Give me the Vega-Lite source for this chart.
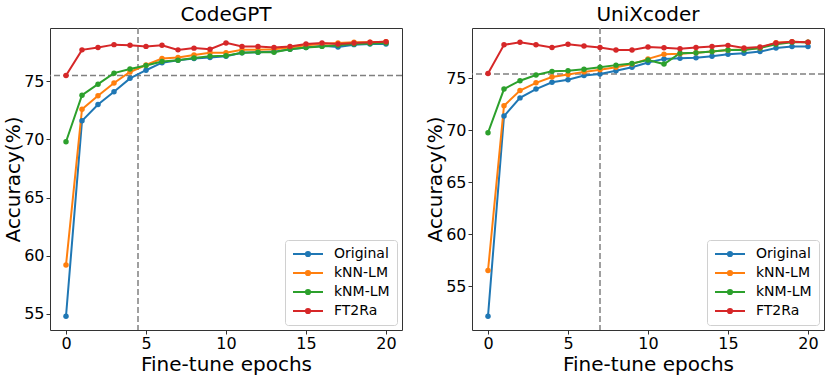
{
  "$schema": "https://vega.github.io/schema/vega-lite/v6.json",
  "padding": {"left": 3, "right": 8, "top": 4, "bottom": 0},
  "config": {
    "font": "DejaVu Sans",
    "view": {"stroke": "#333", "strokeWidth": 1},
    "axis": {"grid": false, "domain": false, "labelFontSize": 16, "titleFontSize": 20, "labelColor": "#000", "titleColor": "#000", "titleFontWeight": "normal", "tickColor": "#333", "tickSize": 4, "labelPadding": 2},
    "axisX": {"titlePadding": 3, "labelPadding": 1},
    "axisY": {"titlePadding": 0},
    "title": {"fontSize": 20, "fontWeight": "normal", "offset": 2, "color": "#000"},
    "legend": {"orient": "bottom-right", "offset": 5, "padding": 7, "strokeColor": "#d0d0d0", "fillColor": "#ffffff", "cornerRadius": 3, "labelFontSize": 14, "labelColor": "#000", "rowPadding": 5, "symbolStrokeWidth": 2, "labelOffset": 28}
  },
  "datasets": {
    "acc": [
      {"model": "CodeGPT", "method": "Original", "epoch": 0, "acc": 54.8},
      {"model": "CodeGPT", "method": "Original", "epoch": 1, "acc": 71.6},
      {"model": "CodeGPT", "method": "Original", "epoch": 2, "acc": 73.0},
      {"model": "CodeGPT", "method": "Original", "epoch": 3, "acc": 74.1},
      {"model": "CodeGPT", "method": "Original", "epoch": 4, "acc": 75.25},
      {"model": "CodeGPT", "method": "Original", "epoch": 5, "acc": 75.95},
      {"model": "CodeGPT", "method": "Original", "epoch": 6, "acc": 76.6},
      {"model": "CodeGPT", "method": "Original", "epoch": 7, "acc": 76.8},
      {"model": "CodeGPT", "method": "Original", "epoch": 8, "acc": 76.95},
      {"model": "CodeGPT", "method": "Original", "epoch": 9, "acc": 77.05},
      {"model": "CodeGPT", "method": "Original", "epoch": 10, "acc": 77.15},
      {"model": "CodeGPT", "method": "Original", "epoch": 11, "acc": 77.45},
      {"model": "CodeGPT", "method": "Original", "epoch": 12, "acc": 77.5},
      {"model": "CodeGPT", "method": "Original", "epoch": 13, "acc": 77.55},
      {"model": "CodeGPT", "method": "Original", "epoch": 14, "acc": 77.75},
      {"model": "CodeGPT", "method": "Original", "epoch": 15, "acc": 77.9},
      {"model": "CodeGPT", "method": "Original", "epoch": 16, "acc": 78.05},
      {"model": "CodeGPT", "method": "Original", "epoch": 17, "acc": 77.95},
      {"model": "CodeGPT", "method": "Original", "epoch": 18, "acc": 78.15},
      {"model": "CodeGPT", "method": "Original", "epoch": 19, "acc": 78.2},
      {"model": "CodeGPT", "method": "Original", "epoch": 20, "acc": 78.2},
      {"model": "CodeGPT", "method": "kNN-LM", "epoch": 0, "acc": 59.2},
      {"model": "CodeGPT", "method": "kNN-LM", "epoch": 1, "acc": 72.6},
      {"model": "CodeGPT", "method": "kNN-LM", "epoch": 2, "acc": 73.75},
      {"model": "CodeGPT", "method": "kNN-LM", "epoch": 3, "acc": 74.85},
      {"model": "CodeGPT", "method": "kNN-LM", "epoch": 4, "acc": 75.8},
      {"model": "CodeGPT", "method": "kNN-LM", "epoch": 5, "acc": 76.4},
      {"model": "CodeGPT", "method": "kNN-LM", "epoch": 6, "acc": 76.95},
      {"model": "CodeGPT", "method": "kNN-LM", "epoch": 7, "acc": 77.05},
      {"model": "CodeGPT", "method": "kNN-LM", "epoch": 8, "acc": 77.25},
      {"model": "CodeGPT", "method": "kNN-LM", "epoch": 9, "acc": 77.45},
      {"model": "CodeGPT", "method": "kNN-LM", "epoch": 10, "acc": 77.45},
      {"model": "CodeGPT", "method": "kNN-LM", "epoch": 11, "acc": 77.7},
      {"model": "CodeGPT", "method": "kNN-LM", "epoch": 12, "acc": 77.7},
      {"model": "CodeGPT", "method": "kNN-LM", "epoch": 13, "acc": 77.75},
      {"model": "CodeGPT", "method": "kNN-LM", "epoch": 14, "acc": 77.9},
      {"model": "CodeGPT", "method": "kNN-LM", "epoch": 15, "acc": 78.1},
      {"model": "CodeGPT", "method": "kNN-LM", "epoch": 16, "acc": 78.2},
      {"model": "CodeGPT", "method": "kNN-LM", "epoch": 17, "acc": 78.3},
      {"model": "CodeGPT", "method": "kNN-LM", "epoch": 18, "acc": 78.35},
      {"model": "CodeGPT", "method": "kNN-LM", "epoch": 19, "acc": 78.35},
      {"model": "CodeGPT", "method": "kNN-LM", "epoch": 20, "acc": 78.4},
      {"model": "CodeGPT", "method": "kNM-LM", "epoch": 0, "acc": 69.8},
      {"model": "CodeGPT", "method": "kNM-LM", "epoch": 1, "acc": 73.8},
      {"model": "CodeGPT", "method": "kNM-LM", "epoch": 2, "acc": 74.75},
      {"model": "CodeGPT", "method": "kNM-LM", "epoch": 3, "acc": 75.7},
      {"model": "CodeGPT", "method": "kNM-LM", "epoch": 4, "acc": 76.05},
      {"model": "CodeGPT", "method": "kNM-LM", "epoch": 5, "acc": 76.35},
      {"model": "CodeGPT", "method": "kNM-LM", "epoch": 6, "acc": 76.7},
      {"model": "CodeGPT", "method": "kNM-LM", "epoch": 7, "acc": 76.8},
      {"model": "CodeGPT", "method": "kNM-LM", "epoch": 8, "acc": 77.0},
      {"model": "CodeGPT", "method": "kNM-LM", "epoch": 9, "acc": 77.15},
      {"model": "CodeGPT", "method": "kNM-LM", "epoch": 10, "acc": 77.2},
      {"model": "CodeGPT", "method": "kNM-LM", "epoch": 11, "acc": 77.45},
      {"model": "CodeGPT", "method": "kNM-LM", "epoch": 12, "acc": 77.5},
      {"model": "CodeGPT", "method": "kNM-LM", "epoch": 13, "acc": 77.5},
      {"model": "CodeGPT", "method": "kNM-LM", "epoch": 14, "acc": 77.75},
      {"model": "CodeGPT", "method": "kNM-LM", "epoch": 15, "acc": 77.9},
      {"model": "CodeGPT", "method": "kNM-LM", "epoch": 16, "acc": 78.0},
      {"model": "CodeGPT", "method": "kNM-LM", "epoch": 17, "acc": 78.1},
      {"model": "CodeGPT", "method": "kNM-LM", "epoch": 18, "acc": 78.2},
      {"model": "CodeGPT", "method": "kNM-LM", "epoch": 19, "acc": 78.25},
      {"model": "CodeGPT", "method": "kNM-LM", "epoch": 20, "acc": 78.3},
      {"model": "CodeGPT", "method": "FT2Ra", "epoch": 0, "acc": 75.5},
      {"model": "CodeGPT", "method": "FT2Ra", "epoch": 1, "acc": 77.7},
      {"model": "CodeGPT", "method": "FT2Ra", "epoch": 2, "acc": 77.9},
      {"model": "CodeGPT", "method": "FT2Ra", "epoch": 3, "acc": 78.15},
      {"model": "CodeGPT", "method": "FT2Ra", "epoch": 4, "acc": 78.1},
      {"model": "CodeGPT", "method": "FT2Ra", "epoch": 5, "acc": 78.0},
      {"model": "CodeGPT", "method": "FT2Ra", "epoch": 6, "acc": 78.1},
      {"model": "CodeGPT", "method": "FT2Ra", "epoch": 7, "acc": 77.7},
      {"model": "CodeGPT", "method": "FT2Ra", "epoch": 8, "acc": 77.85},
      {"model": "CodeGPT", "method": "FT2Ra", "epoch": 9, "acc": 77.75},
      {"model": "CodeGPT", "method": "FT2Ra", "epoch": 10, "acc": 78.3},
      {"model": "CodeGPT", "method": "FT2Ra", "epoch": 11, "acc": 78.0},
      {"model": "CodeGPT", "method": "FT2Ra", "epoch": 12, "acc": 78.0},
      {"model": "CodeGPT", "method": "FT2Ra", "epoch": 13, "acc": 77.9},
      {"model": "CodeGPT", "method": "FT2Ra", "epoch": 14, "acc": 78.0},
      {"model": "CodeGPT", "method": "FT2Ra", "epoch": 15, "acc": 78.2},
      {"model": "CodeGPT", "method": "FT2Ra", "epoch": 16, "acc": 78.3},
      {"model": "CodeGPT", "method": "FT2Ra", "epoch": 17, "acc": 78.2},
      {"model": "CodeGPT", "method": "FT2Ra", "epoch": 18, "acc": 78.3},
      {"model": "CodeGPT", "method": "FT2Ra", "epoch": 19, "acc": 78.35},
      {"model": "CodeGPT", "method": "FT2Ra", "epoch": 20, "acc": 78.4},
      {"model": "UniXcoder", "method": "Original", "epoch": 0, "acc": 52.1},
      {"model": "UniXcoder", "method": "Original", "epoch": 1, "acc": 71.35},
      {"model": "UniXcoder", "method": "Original", "epoch": 2, "acc": 73.1},
      {"model": "UniXcoder", "method": "Original", "epoch": 3, "acc": 73.95},
      {"model": "UniXcoder", "method": "Original", "epoch": 4, "acc": 74.6},
      {"model": "UniXcoder", "method": "Original", "epoch": 5, "acc": 74.85},
      {"model": "UniXcoder", "method": "Original", "epoch": 6, "acc": 75.25},
      {"model": "UniXcoder", "method": "Original", "epoch": 7, "acc": 75.4},
      {"model": "UniXcoder", "method": "Original", "epoch": 8, "acc": 75.7},
      {"model": "UniXcoder", "method": "Original", "epoch": 9, "acc": 76.05},
      {"model": "UniXcoder", "method": "Original", "epoch": 10, "acc": 76.5},
      {"model": "UniXcoder", "method": "Original", "epoch": 11, "acc": 76.85},
      {"model": "UniXcoder", "method": "Original", "epoch": 12, "acc": 76.9},
      {"model": "UniXcoder", "method": "Original", "epoch": 13, "acc": 76.95},
      {"model": "UniXcoder", "method": "Original", "epoch": 14, "acc": 77.1},
      {"model": "UniXcoder", "method": "Original", "epoch": 15, "acc": 77.3},
      {"model": "UniXcoder", "method": "Original", "epoch": 16, "acc": 77.4},
      {"model": "UniXcoder", "method": "Original", "epoch": 17, "acc": 77.55},
      {"model": "UniXcoder", "method": "Original", "epoch": 18, "acc": 77.9},
      {"model": "UniXcoder", "method": "Original", "epoch": 19, "acc": 78.05},
      {"model": "UniXcoder", "method": "Original", "epoch": 20, "acc": 78.05},
      {"model": "UniXcoder", "method": "kNN-LM", "epoch": 0, "acc": 56.5},
      {"model": "UniXcoder", "method": "kNN-LM", "epoch": 1, "acc": 72.35},
      {"model": "UniXcoder", "method": "kNN-LM", "epoch": 2, "acc": 73.8},
      {"model": "UniXcoder", "method": "kNN-LM", "epoch": 3, "acc": 74.55},
      {"model": "UniXcoder", "method": "kNN-LM", "epoch": 4, "acc": 75.1},
      {"model": "UniXcoder", "method": "kNN-LM", "epoch": 5, "acc": 75.35},
      {"model": "UniXcoder", "method": "kNN-LM", "epoch": 6, "acc": 75.6},
      {"model": "UniXcoder", "method": "kNN-LM", "epoch": 7, "acc": 75.8},
      {"model": "UniXcoder", "method": "kNN-LM", "epoch": 8, "acc": 76.05},
      {"model": "UniXcoder", "method": "kNN-LM", "epoch": 9, "acc": 76.35},
      {"model": "UniXcoder", "method": "kNN-LM", "epoch": 10, "acc": 76.85},
      {"model": "UniXcoder", "method": "kNN-LM", "epoch": 11, "acc": 77.3},
      {"model": "UniXcoder", "method": "kNN-LM", "epoch": 12, "acc": 77.35},
      {"model": "UniXcoder", "method": "kNN-LM", "epoch": 13, "acc": 77.45},
      {"model": "UniXcoder", "method": "kNN-LM", "epoch": 14, "acc": 77.55},
      {"model": "UniXcoder", "method": "kNN-LM", "epoch": 15, "acc": 77.7},
      {"model": "UniXcoder", "method": "kNN-LM", "epoch": 16, "acc": 77.75},
      {"model": "UniXcoder", "method": "kNN-LM", "epoch": 17, "acc": 77.9},
      {"model": "UniXcoder", "method": "kNN-LM", "epoch": 18, "acc": 78.4},
      {"model": "UniXcoder", "method": "kNN-LM", "epoch": 19, "acc": 78.5},
      {"model": "UniXcoder", "method": "kNN-LM", "epoch": 20, "acc": 78.45},
      {"model": "UniXcoder", "method": "kNM-LM", "epoch": 0, "acc": 69.75},
      {"model": "UniXcoder", "method": "kNM-LM", "epoch": 1, "acc": 73.95},
      {"model": "UniXcoder", "method": "kNM-LM", "epoch": 2, "acc": 74.75},
      {"model": "UniXcoder", "method": "kNM-LM", "epoch": 3, "acc": 75.3},
      {"model": "UniXcoder", "method": "kNM-LM", "epoch": 4, "acc": 75.65},
      {"model": "UniXcoder", "method": "kNM-LM", "epoch": 5, "acc": 75.7},
      {"model": "UniXcoder", "method": "kNM-LM", "epoch": 6, "acc": 75.85},
      {"model": "UniXcoder", "method": "kNM-LM", "epoch": 7, "acc": 76.05},
      {"model": "UniXcoder", "method": "kNM-LM", "epoch": 8, "acc": 76.25},
      {"model": "UniXcoder", "method": "kNM-LM", "epoch": 9, "acc": 76.4},
      {"model": "UniXcoder", "method": "kNM-LM", "epoch": 10, "acc": 76.75},
      {"model": "UniXcoder", "method": "kNM-LM", "epoch": 11, "acc": 76.35},
      {"model": "UniXcoder", "method": "kNM-LM", "epoch": 12, "acc": 77.4},
      {"model": "UniXcoder", "method": "kNM-LM", "epoch": 13, "acc": 77.45},
      {"model": "UniXcoder", "method": "kNM-LM", "epoch": 14, "acc": 77.55},
      {"model": "UniXcoder", "method": "kNM-LM", "epoch": 15, "acc": 77.7},
      {"model": "UniXcoder", "method": "kNM-LM", "epoch": 16, "acc": 77.7},
      {"model": "UniXcoder", "method": "kNM-LM", "epoch": 17, "acc": 77.9},
      {"model": "UniXcoder", "method": "kNM-LM", "epoch": 18, "acc": 78.25},
      {"model": "UniXcoder", "method": "kNM-LM", "epoch": 19, "acc": 78.45},
      {"model": "UniXcoder", "method": "kNM-LM", "epoch": 20, "acc": 78.45},
      {"model": "UniXcoder", "method": "FT2Ra", "epoch": 0, "acc": 75.45},
      {"model": "UniXcoder", "method": "FT2Ra", "epoch": 1, "acc": 78.2},
      {"model": "UniXcoder", "method": "FT2Ra", "epoch": 2, "acc": 78.45},
      {"model": "UniXcoder", "method": "FT2Ra", "epoch": 3, "acc": 78.2},
      {"model": "UniXcoder", "method": "FT2Ra", "epoch": 4, "acc": 77.95},
      {"model": "UniXcoder", "method": "FT2Ra", "epoch": 5, "acc": 78.25},
      {"model": "UniXcoder", "method": "FT2Ra", "epoch": 6, "acc": 78.1},
      {"model": "UniXcoder", "method": "FT2Ra", "epoch": 7, "acc": 77.95},
      {"model": "UniXcoder", "method": "FT2Ra", "epoch": 8, "acc": 77.7},
      {"model": "UniXcoder", "method": "FT2Ra", "epoch": 9, "acc": 77.7},
      {"model": "UniXcoder", "method": "FT2Ra", "epoch": 10, "acc": 78.0},
      {"model": "UniXcoder", "method": "FT2Ra", "epoch": 11, "acc": 77.92},
      {"model": "UniXcoder", "method": "FT2Ra", "epoch": 12, "acc": 77.83},
      {"model": "UniXcoder", "method": "FT2Ra", "epoch": 13, "acc": 77.95},
      {"model": "UniXcoder", "method": "FT2Ra", "epoch": 14, "acc": 78.04},
      {"model": "UniXcoder", "method": "FT2Ra", "epoch": 15, "acc": 78.15},
      {"model": "UniXcoder", "method": "FT2Ra", "epoch": 16, "acc": 77.89},
      {"model": "UniXcoder", "method": "FT2Ra", "epoch": 17, "acc": 78.0},
      {"model": "UniXcoder", "method": "FT2Ra", "epoch": 18, "acc": 78.38},
      {"model": "UniXcoder", "method": "FT2Ra", "epoch": 19, "acc": 78.5},
      {"model": "UniXcoder", "method": "FT2Ra", "epoch": 20, "acc": 78.45}
    ],
    "refs": [
      {"model": "CodeGPT", "h": 75.5, "v": 4.5},
      {"model": "UniXcoder", "h": 75.4, "v": 7}
    ]
  },
  "spacing": 21,
  "resolve": {"scale": {"color": "independent", "y": "independent"}, "legend": {"color": "independent"}},
  "hconcat": [
    {
      "title": "CodeGPT",
      "width": 352,
      "height": 302,
      "layer": [
        {
          "data": {"name": "refs"},
          "transform": [{"filter": "datum.model === 'CodeGPT'"}],
          "mark": {"type": "rule", "color": "#808080", "strokeWidth": 1.5, "strokeDash": [6, 3]},
          "encoding": {"y": {"field": "h", "type": "quantitative", "title": "Accuracy(%)", "scale": {"domain": [53.62, 79.58], "nice": false, "zero": false}, "axis": {"values": [55, 60, 65, 70, 75]}}}
        },
        {
          "data": {"name": "refs"},
          "transform": [{"filter": "datum.model === 'CodeGPT'"}],
          "mark": {"type": "rule", "color": "#808080", "strokeWidth": 1.5, "strokeDash": [6, 3]},
          "encoding": {"x": {"field": "v", "type": "quantitative", "title": "Fine-tune epochs", "scale": {"domain": [-1, 21], "nice": false, "zero": false}, "axis": {"values": [0, 5, 10, 15, 20]}}}
        },
        {
          "data": {"name": "acc"},
          "transform": [{"filter": "datum.model === 'CodeGPT'"}],
          "mark": {"type": "line", "strokeWidth": 2, "point": {"filled": true, "size": 30}},
          "encoding": {
            "x": {"field": "epoch", "type": "quantitative", "title": "Fine-tune epochs", "scale": {"domain": [-1, 21], "nice": false, "zero": false}, "axis": {"values": [0, 5, 10, 15, 20]}},
            "y": {"field": "acc", "type": "quantitative", "title": "Accuracy(%)", "scale": {"domain": [53.62, 79.58], "nice": false, "zero": false}, "axis": {"values": [55, 60, 65, 70, 75]}},
            "color": {"field": "method", "type": "nominal", "sort": null, "scale": {"domain": ["Original", "kNN-LM", "kNM-LM", "FT2Ra"], "range": ["#1f77b4", "#ff7f0e", "#2ca02c", "#d62728"]}, "legend": {"title": null, "symbolType": "M-1,0H4M1.15,0A0.35,0.35 0 1,0 1.85,0A0.35,0.35 0 1,0 1.15,0", "symbolSize": 144}}
          }
        }
      ]
    },
    {
      "title": "UniXcoder",
      "width": 352,
      "height": 302,
      "layer": [
        {
          "data": {"name": "refs"},
          "transform": [{"filter": "datum.model === 'UniXcoder'"}],
          "mark": {"type": "rule", "color": "#808080", "strokeWidth": 1.5, "strokeDash": [6, 3]},
          "encoding": {"y": {"field": "h", "type": "quantitative", "title": "Accuracy(%)", "scale": {"domain": [50.78, 79.82], "nice": false, "zero": false}, "axis": {"values": [55, 60, 65, 70, 75]}}}
        },
        {
          "data": {"name": "refs"},
          "transform": [{"filter": "datum.model === 'UniXcoder'"}],
          "mark": {"type": "rule", "color": "#808080", "strokeWidth": 1.5, "strokeDash": [6, 3]},
          "encoding": {"x": {"field": "v", "type": "quantitative", "title": "Fine-tune epochs", "scale": {"domain": [-1, 21], "nice": false, "zero": false}, "axis": {"values": [0, 5, 10, 15, 20]}}}
        },
        {
          "data": {"name": "acc"},
          "transform": [{"filter": "datum.model === 'UniXcoder'"}],
          "mark": {"type": "line", "strokeWidth": 2, "point": {"filled": true, "size": 30}},
          "encoding": {
            "x": {"field": "epoch", "type": "quantitative", "title": "Fine-tune epochs", "scale": {"domain": [-1, 21], "nice": false, "zero": false}, "axis": {"values": [0, 5, 10, 15, 20]}},
            "y": {"field": "acc", "type": "quantitative", "title": "Accuracy(%)", "scale": {"domain": [50.78, 79.82], "nice": false, "zero": false}, "axis": {"values": [55, 60, 65, 70, 75]}},
            "color": {"field": "method", "type": "nominal", "sort": null, "scale": {"domain": ["Original", "kNN-LM", "kNM-LM", "FT2Ra"], "range": ["#1f77b4", "#ff7f0e", "#2ca02c", "#d62728"]}, "legend": {"title": null, "symbolType": "M-1,0H4M1.15,0A0.35,0.35 0 1,0 1.85,0A0.35,0.35 0 1,0 1.15,0", "symbolSize": 144}}
          }
        }
      ]
    }
  ]
}
